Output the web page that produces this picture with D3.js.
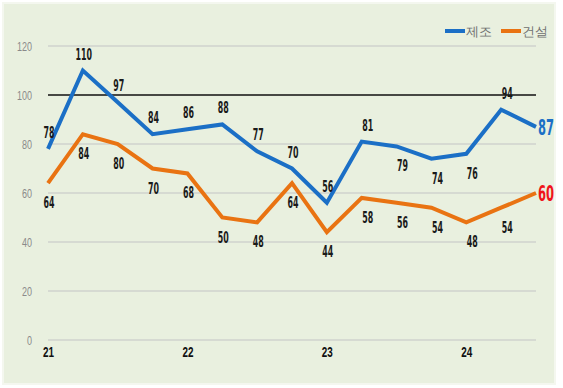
<!DOCTYPE html>
<html>
<head>
<meta charset="utf-8">
<script src="https://cdn.jsdelivr.net/npm/d3@7"></script>
<style>
  body { margin: 0; background: #fff; }
  svg { display: block; font-family: "DejaVu Sans Condensed", "DejaVu Sans", sans-serif; font-stretch: condensed; }
</style>
</head>
<body>
<svg width="563" height="388"></svg>
<script>
// data
var periods = ["21", "", "", "", "22", "", "", "", "23", "", "", "", "24", "", ""];
var seriesNames = ["제조", "건설"];
var manufacturing = [78, 110, 97, 84, 86, 88, 77, 70, 56, 81, 79, 74, 76, 94, 87];
var construction = [64, 84, 80, 70, 68, 50, 48, 64, 44, 58, 56, 54, 48, 54, 60];
var yTicks = [0, 20, 40, 60, 80, 100, 120];

// which side the value label sits on (1 = above, -1 = below)
var mfgLabelSide = [1, 1, 1, 1, 1, 1, 1, 1, 1, 1, -1, -1, -1, 1, 0];
var conLabelSide = [-1, -1, -1, -1, -1, -1, -1, -1, -1, -1, -1, -1, -1, -1, 0];

var svg = d3.select("svg");
var blue = "#1b6fc6", orange = "#e97312";

// squeeze text to a narrow face, per character width
function narrow(sel, perChar) {
  sel.attr("textLength", function() { return this.textContent.length * perChar; })
    .attr("lengthAdjust", "spacingAndGlyphs");
}

// panel
svg.append("rect")
  .attr("x", 3).attr("y", 3)
  .attr("width", 552).attr("height", 381)
  .attr("fill", "#e9f0df")
  .attr("stroke", "#f4f7ef")
  .attr("stroke-width", 2);

var x = d3.scalePoint().domain(d3.range(periods.length)).range([48, 536]);
var y = d3.scaleLinear().domain([0, 120]).range([340, 46]);

// grid
svg.append("g").selectAll("line")
  .data(yTicks)
  .join("line")
  .attr("x1", x(0)).attr("x2", x(periods.length - 1))
  .attr("y1", function(d) { return y(d); })
  .attr("y2", function(d) { return y(d); })
  .attr("stroke", function(d) { return d === 100 ? "#111" : "#d6dad2"; })
  .attr("stroke-width", function(d) { return d === 100 ? 1.5 : 2; });

// y labels
var yAxis = d3.axisLeft(y).tickValues(yTicks).tickSize(0).tickPadding(8);
var gy = svg.append("g").attr("transform", "translate(" + 40 + ",0)").call(yAxis);
gy.select(".domain").remove();
gy.selectAll("text").attr("fill", "#8a8a8a").attr("font-size", 13)
  .style("font-family", "inherit").call(narrow, 5);

// x labels
var xAxis = d3.axisBottom(x).tickSize(0).tickPadding(6)
  .tickValues(d3.range(periods.length).filter(function(i) { return periods[i] !== ""; }))
  .tickFormat(function(i) { return periods[i]; });
var gx = svg.append("g").attr("transform", "translate(0,340)").call(xAxis);
gx.select(".domain").remove();
gx.selectAll("text").attr("fill", "#111").attr("font-size", 15).attr("font-weight", "bold")
  .style("font-family", "inherit").call(narrow, 5.5);

var line = d3.line()
  .x(function(d, i) { return x(i); })
  .y(function(d) { return y(d); });

function drawSeries(values, color, sides, endColor) {
  svg.append("path")
    .datum(values)
    .attr("d", line)
    .attr("fill", "none")
    .attr("stroke", color)
    .attr("stroke-width", 4)
    .attr("stroke-linejoin", "miter");

  svg.append("g").selectAll("text")
    .data(values.slice(0, -1))
    .join("text")
    .attr("x", function(d, i) { return x(i) + (i > 8 ? 6 : 1); })
    .attr("y", function(d, i) { return y(d) + (sides[i] > 0 ? -11 : 25); })
    .attr("text-anchor", "middle")
    .attr("font-size", 15)
    .attr("font-weight", "bold")
    .attr("fill", "#1a1a1a")
    .text(function(d) { return d; })
    .call(narrow, 5.5);

  var last = values.length - 1;
  svg.append("text")
    .attr("x", x(last) + 2)
    .attr("y", y(values[last]) + 8)
    .attr("font-size", 21)
    .attr("font-weight", "bold")
    .attr("fill", endColor)
    .text(values[last])
    .call(narrow, 8);
}

drawSeries(manufacturing, blue, mfgLabelSide, blue);
drawSeries(construction, orange, conLabelSide, "#f0141a");

// legend
var legend = svg.append("g").attr("transform", "translate(445,31)");
[blue, orange].forEach(function(c, i) {
  var g = legend.append("g").attr("transform", "translate(" + (i * 56) + ",0)");
  g.append("line").attr("x1", 0).attr("x2", 20).attr("y1", 0).attr("y2", 0)
    .attr("stroke", c).attr("stroke-width", 4);
  g.append("text").attr("x", 21).attr("y", 5)
    .attr("font-size", 13).attr("fill", "#707070")
    .text(seriesNames[i]);
});
</script>
</body>
</html>
